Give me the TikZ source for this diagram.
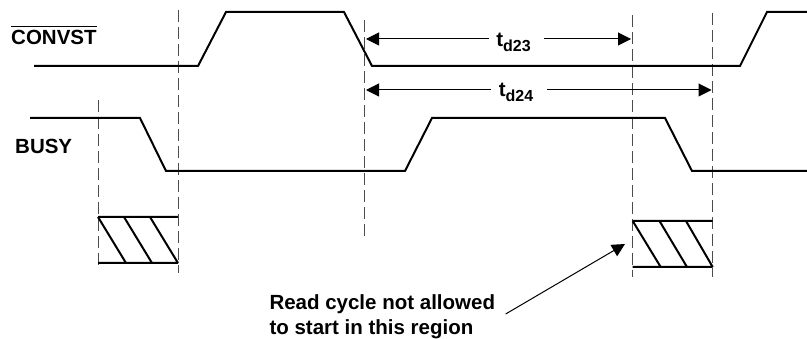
\documentclass[tikz,border=0pt]{standalone}
\usepackage{fontspec}
\setmainfont{Liberation Sans}
\usetikzlibrary{arrows.meta,calc}
\tikzset{
  sig/.style={line width=2pt, line join=miter},
  guide/.style={line width=0.9pt, black!70, dash pattern=on 12pt off 5pt},
  hatch/.style={line width=2pt},
  dim/.style={line width=1pt, -{Triangle[length=13pt,width=13pt]}},
  lbl/.style={inner sep=0pt, font=\fontsize{20.5}{25}\selectfont\bfseries},
}
\newcommand{\tsub}[1]{t\raisebox{-5pt}{\fontsize{16}{16}\selectfont #1}}
\begin{document}
\begin{tikzpicture}[x=1pt,y=-1pt]
\useasboundingbox (0,0) rectangle (807,339);
% guides
\draw[guide] (98,100) -- (98,265);
\draw[guide] (178,10) -- (178,273);
\draw[guide] (364,20) -- (364,238);
\draw[guide] (632.7,15) -- (632.7,277);
\draw[guide] (712.7,13) -- (712.7,277);
% signals
\draw[sig] (34,66) -- (198,66) -- (226,12) -- (344,12) -- (372,66) -- (740,66) -- (767,12) -- (807,12);
\draw[sig] (30,118) -- (140,118) -- (166,171) -- (405,171) -- (432,118) -- (665,118) -- (692,171) -- (807,171);
% hatched boxes
\draw[hatch] (98,217) -- (178,217) (98,263) -- (178,263)
  (98,217) -- (126,263) (124,217) -- (152,263) (150,217) -- (178,263);
\draw[hatch] (632.7,221) -- (712.7,221) (632.7,267) -- (712.7,267)
  (632.7,221) -- (660.7,267) (659.5,221) -- (687,267) (686,221) -- (712.7,267);
% labels
\node[lbl, anchor=base west] (convst) at (11,44.3)
  {\setbox0\hbox{CONVST}\rlap{\rule[\dimexpr\ht0+2.5pt\relax]{\wd0}{1.5pt}}\box0};
\node[lbl, anchor=base west] (busy) at (15,153.3) {BUSY};
\node[lbl, anchor=base] (td23) at (513.5,47) {\tsub{d23}};
\node[lbl, anchor=base] (td24) at (516,96.5) {\tsub{d24}};
\node[lbl, anchor=base west] (note1) at (269.3,310) {Read cycle not allowed};
\node[lbl, anchor=base west] (note2) at (269.3,335) {to start in this region};
% dimension arrows
\coordinate (a23l) at (366,39);
\coordinate (a23r) at (631,39);
\coordinate (a24l) at (366,90);
\coordinate (a24r) at (711.5,90);
\draw[dim] ([xshift=-7pt]td23.west |- a23l) -- (a23l);
\draw[dim] ([xshift=13pt]td23.east |- a23r) -- (a23r);
\draw[dim] ([xshift=-8pt]td24.west |- a24l) -- (a24l);
\draw[dim] ([xshift=14pt]td24.east |- a24r) -- (a24r);
% pointer
\coordinate (ptail) at ([shift={(10.4,4)}]note1.base east);
\coordinate (ptip) at (625,244);
\draw[dim] (ptail) -- (ptip);
\end{tikzpicture}
\end{document}
